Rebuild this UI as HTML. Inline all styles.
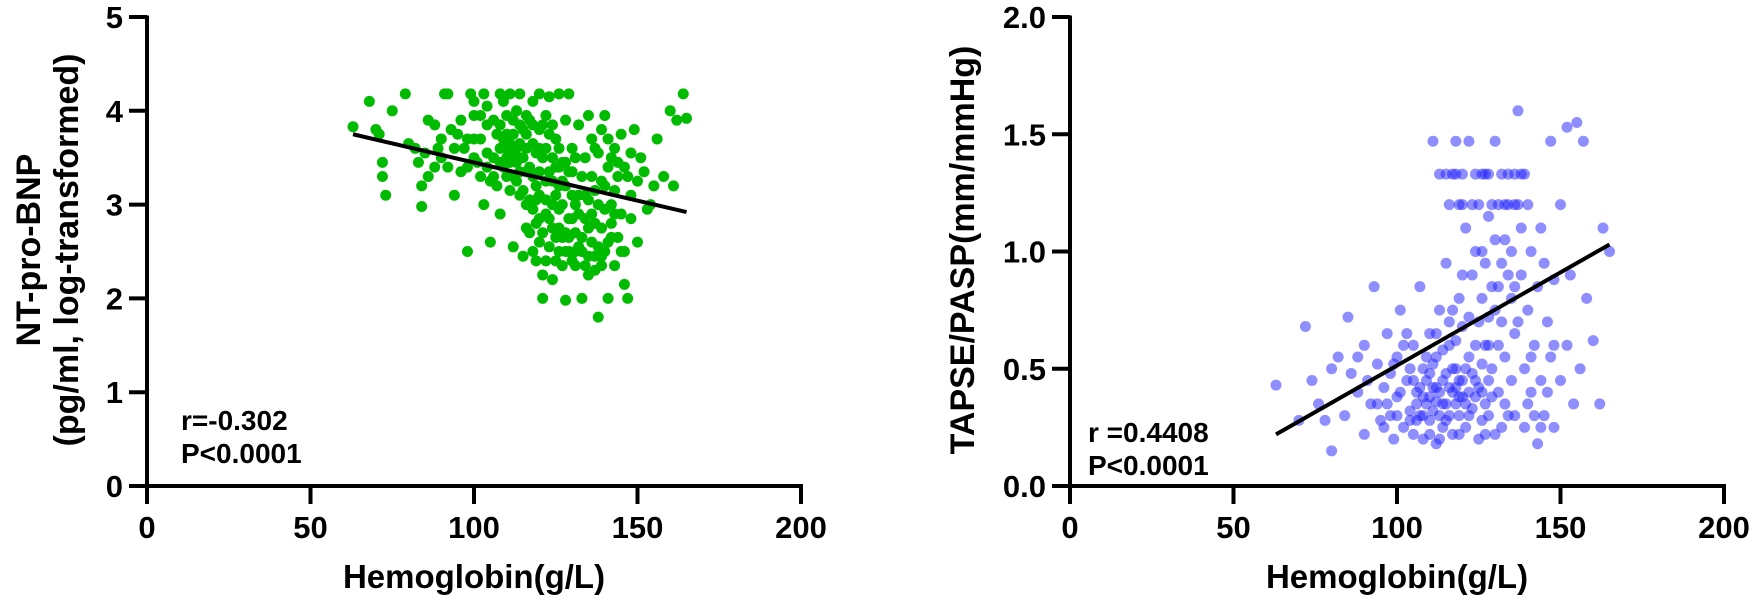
<!DOCTYPE html>
<html><head><meta charset="utf-8"><style>
html,body{margin:0;padding:0;background:#fff}
svg{display:block;font-family:"Liberation Sans",Arial,sans-serif;font-weight:bold}
</style></head><body>
<svg id="fig" width="1755" height="614" viewBox="0 0 1755 614"></svg>
<script>
const xTicks=[0,50,100,150,200];
const leftYTicks=[0,1,2,3,4,5];
const rightYTicks=[0,0.5,1.0,1.5,2.0];
const rightYLabels=["0.0","0.5","1.0","1.5","2.0"];
const leftFit=[[63,3.75],[165,2.92]];
const rightFit=[[63,0.22],[165,1.03]];
const leftPoints=[[63,3.83],[68,4.1],[70,3.8],[71,3.75],[72,3.45],[72,3.3],[73,3.1],[75,4.0],[79,4.18],[80,3.65],[82,3.6],[83,3.45],[84,3.2],[84,2.98],[85,3.55],[86,3.9],[88,3.85],[89,3.6],[90,3.5],[91,4.18],[92,4.18],[93,3.8],[94,3.1],[95,3.75],[96,3.35],[97,3.6],[98,2.5],[99,4.18],[100,4.1],[100,3.95],[101,3.45],[102,3.7],[103,4.18],[103,3.0],[104,3.55],[105,2.6],[105,3.25],[106,3.9],[107,3.75],[108,3.85],[108,2.9],[109,4.1],[110,3.6],[110,3.3],[111,4.18],[111,3.45],[112,3.75],[112,2.55],[113,4.0],[113,3.6],[114,3.1],[114,3.85],[115,3.5],[115,2.45],[116,3.95],[116,3.0],[117,2.7],[117,3.4],[118,4.1],[118,3.65],[119,2.8],[119,3.2],[120,3.8],[120,2.6],[121,3.5],[121,2.0],[122,3.05],[122,2.9],[123,4.15],[123,3.35],[124,2.2],[124,2.75],[125,3.7],[125,3.1],[126,2.5],[126,2.95],[127,3.45],[127,2.65],[128,1.98],[128,3.2],[129,4.18],[129,2.85],[130,3.6],[130,2.4],[131,3.0],[131,2.7],[132,3.85],[132,2.55],[133,3.3],[133,2.0],[134,3.5],[134,2.85],[135,3.05],[135,2.45],[136,3.7],[136,2.6],[137,2.3],[137,3.15],[138,1.8],[138,3.55],[139,2.75],[139,3.25],[140,3.95],[140,2.5],[141,3.4],[141,2.0],[142,3.0],[142,2.65],[143,3.6],[143,2.35],[144,3.3],[145,2.9],[145,3.75],[146,2.5],[146,2.15],[147,2.0],[147,3.3],[148,2.85],[148,3.55],[150,3.25],[150,2.6],[152,3.35],[153,2.95],[155,3.2],[156,3.7],[158,3.3],[160,4.0],[161,3.2],[162,3.9],[164,4.18],[165,3.92],[106,3.5],[107,3.2],[108,3.45],[109,3.7],[110,3.95],[111,3.15],[112,3.55],[113,3.25],[114,3.65],[115,3.8],[116,3.35],[117,3.9],[118,3.3],[119,3.55],[120,3.35],[121,3.85],[122,3.6],[123,3.75],[124,3.5],[125,3.4],[126,3.2],[127,3.0],[128,2.7],[129,3.35],[130,3.1],[116,2.75],[118,2.5],[120,2.85],[122,2.4],[124,3.0],[126,3.6],[128,3.9],[130,2.85],[132,3.1],[134,2.35],[136,2.9],[138,2.55],[140,2.95],[142,3.5],[144,2.65],[96,3.9],[98,3.7],[100,3.5],[102,3.3],[104,3.85],[92,3.4],[94,3.6],[88,3.4],[86,3.3],[90,3.7],[104,4.05],[108,4.18],[114,4.18],[120,4.18],[126,4.18],[131,3.5],[135,3.95],[137,3.6],[139,3.8],[141,3.7],[143,3.15],[146,3.4],[148,3.1],[149,3.8],[151,3.5],[154,3.0],
[109,3.4],[110,3.75],[111,3.65],[112,3.9],[113,3.45],[114,3.35],[115,3.15],[116,3.6],[117,3.05],[118,2.95],[119,3.05],[120,3.1],[121,2.7],[122,3.25],[123,2.85],[124,3.25],[125,2.65],[126,2.75],[127,3.25],[128,2.5],[129,2.65],[130,3.35],[131,2.5],[132,2.9],[133,2.65],[134,3.1],[135,2.75],[136,3.3],[137,2.8],[138,3.0],[139,2.45],[140,3.2],[141,2.6],[142,2.8],[143,2.9],[144,3.45],[145,2.5],[120,3.6],[118,3.85],[116,3.75],[114,3.5],[112,3.3],[110,3.5],[108,3.6],[106,3.3],[104,3.4],[102,3.95],[100,3.7],[98,3.4],[122,3.95],[124,3.85],[126,3.4],[128,3.45],[119,2.4],[121,2.25],[123,2.55],[125,2.4],[127,2.35],[129,2.5],[131,2.35],[133,2.5],[135,2.25],[137,2.45],[139,2.35]];
const rightPoints=[[63,0.43],[70,0.28],[72,0.68],[74,0.45],[76,0.35],[78,0.28],[80,0.15],[80,0.5],[82,0.55],[84,0.3],[85,0.72],[86,0.48],[88,0.4],[90,0.6],[90,0.22],[92,0.35],[93,0.85],[94,0.52],[95,0.28],[96,0.42],[97,0.65],[98,0.3],[99,0.2],[100,0.55],[100,0.38],[101,0.75],[102,0.25],[103,0.45],[104,0.32],[105,0.6],[105,0.22],[106,0.4],[107,0.85],[107,0.3],[108,0.5],[108,0.2],[109,0.35],[110,0.65],[110,0.28],[111,1.47],[111,0.42],[112,0.55],[112,0.18],[113,0.3],[113,0.75],[114,0.45],[114,0.25],[115,0.95],[115,0.35],[116,1.2],[116,0.6],[117,0.4],[117,0.22],[118,1.33],[118,0.5],[119,0.8],[119,0.3],[120,1.33],[120,0.68],[120,0.38],[121,1.1],[121,0.25],[122,1.47],[122,0.55],[123,0.9],[123,0.33],[124,1.33],[124,0.45],[125,1.2],[125,0.7],[125,0.2],[126,1.0],[126,0.4],[127,1.33],[127,0.6],[128,1.15],[128,0.3],[129,0.85],[129,0.5],[130,1.47],[130,0.75],[130,0.22],[131,1.2],[131,0.4],[132,1.33],[132,0.95],[133,1.05],[133,0.55],[134,1.2],[134,0.3],[135,0.8],[135,0.45],[136,1.33],[136,0.65],[137,1.6],[137,1.2],[138,1.33],[138,0.9],[139,0.5],[139,0.25],[140,1.2],[140,0.75],[141,1.0],[141,0.4],[142,0.6],[142,0.3],[143,0.85],[143,0.18],[144,1.1],[144,0.45],[145,0.95],[145,0.3],[146,0.7],[146,0.4],[147,1.47],[147,0.55],[148,0.88],[148,0.25],[150,1.2],[150,0.45],[152,1.53],[152,0.6],[153,0.9],[154,0.35],[155,1.55],[156,0.5],[157,1.47],[158,0.8],[160,0.62],[162,0.35],[163,1.1],[165,1.0],[105,0.45],[108,0.38],[110,0.48],[112,0.36],[114,0.58],[115,0.28],[116,0.42],[118,0.35],[119,0.45],[121,0.5],[122,0.4],[124,0.6],[126,0.28],[128,0.45],[129,0.38],[131,0.6],[133,0.35],[120,0.9],[117,0.75],[113,1.33],[115,1.33],[117,1.33],[119,1.2],[123,1.2],[127,0.95],[129,1.2],[131,0.85],[135,1.0],[137,0.7],[139,1.33],[141,0.55],[96,0.25],[98,0.48],[102,0.6],[104,0.5],[106,0.28],[109,0.55],[111,0.32],[100,0.3],[94,0.35],[88,0.55],[91,0.45],
[106,0.35],[107,0.42],[108,0.3],[109,0.45],[110,0.38],[111,0.52],[112,0.42],[113,0.4],[114,0.35],[115,0.48],[116,0.3],[117,0.5],[118,0.42],[119,0.38],[120,0.45],[121,0.35],[122,0.3],[123,0.48],[124,0.38],[125,0.42],[126,0.52],[127,0.35],[128,0.6],[112,0.65],[116,0.7],[118,0.62],[122,0.72],[126,0.8],[128,0.72],[132,0.7],[134,0.9],[136,0.85],[138,1.1],[124,1.0],[130,1.05],[120,1.2],[118,1.47],[126,1.33],[128,1.33],[134,1.33],[136,1.2],[133,1.2],[104,0.28],[103,0.65],[101,0.4],[99,0.52],[97,0.35],[110,0.22],[113,0.2],[119,0.22],[127,0.22],[132,0.25],[136,0.3],[140,0.35],[144,0.25],[148,0.6]];

const NS="http://www.w3.org/2000/svg";
const svg=document.getElementById('fig');
function mk(tag,attrs,parent){const e=document.createElementNS(NS,tag);for(const k in attrs)e.setAttribute(k,attrs[k]);(parent||svg).appendChild(e);return e;}

function panel(cfg){
  const g=mk('g',{});
  
  
  const X=v=>cfg.x0+v*(cfg.x1-cfg.x0)/200;
  const Y=v=>cfg.y0-v*(cfg.y0-cfg.yTop)/cfg.yMax;
  cfg.points.forEach(p=>{
    const c=mk('circle',{cx:X(p[0]),cy:Y(p[1]),r:5.5,fill:cfg.color},g);
    
    
  });
  const fl=mk('line',{x1:X(cfg.fit[0][0]),y1:Y(cfg.fit[0][1]),x2:X(cfg.fit[1][0]),y2:Y(cfg.fit[1][1]),stroke:'#000','stroke-width':4},g);
  
  
  const ya=mk('line',{x1:cfg.x0,y1:Y(cfg.yMax)-1.5,x2:cfg.x0,y2:cfg.y0+18,stroke:'#000','stroke-width':4},g);
  
  
  const xa=mk('line',{x1:cfg.x0-18,y1:cfg.y0,x2:X(200)+2,y2:cfg.y0,stroke:'#000','stroke-width':4},g);
  
  
  cfg.yTicks.forEach((v,i)=>{
    if(v>0) mk('line',{x1:cfg.x0-18,y1:Y(v),x2:cfg.x0,y2:Y(v),stroke:'#000','stroke-width':4},g);
    const t=mk('text',{x:cfg.x0-24,y:Y(v)+11,'text-anchor':'end','font-size':31},g);
    t.textContent=cfg.yLabels[i];
    
    
  });
  xTicks.forEach(v=>{
    if(v>0) mk('line',{x1:X(v),y1:cfg.y0,x2:X(v),y2:cfg.y0+18,stroke:'#000','stroke-width':4},g);
    const t=mk('text',{x:X(v),y:cfg.y0+52,'text-anchor':'middle','font-size':31},g);
    t.textContent=String(v);
    
    
  });
  const xt=mk('text',{x:(cfg.x0+X(200))/2,y:cfg.y0+102,'text-anchor':'middle','font-size':33},g);
  xt.textContent='Hemoglobin(g/L)';
  
  
  cfg.yTitle.forEach((s,i)=>{
    const tx=cfg.yTitleX[i];
    const t=mk('text',{x:tx,y:250,'text-anchor':'middle','font-size':34,transform:`rotate(-90 ${tx} 250)`},g);
    t.textContent=s;
    
    
  });
  cfg.annot.forEach((s,i)=>{
    const t=mk('text',{x:cfg.annotX,y:cfg.annotY+i*33,'font-size':28,'font-weight':'bold'},g);
    t.textContent=s;
    
    
  });
}

panel({name:'ntprobnp-panel',x0:147,x1:801,y0:486,yTop:17,yMax:5,points:leftPoints,fit:leftFit,color:'#00bb00',
  yTicks:leftYTicks,yLabels:leftYTicks.map(String),yTitle:['NT-pro-BNP','(pg/ml, log-transformed)'],yTitleX:[40,78],
  annot:['r=-0.302','P<0.0001'],annotX:181,annotY:430});
panel({name:'tapse-pasp-panel',x0:1070,x1:1724,y0:486,yTop:17,yMax:2,points:rightPoints,fit:rightFit,color:'rgba(30,30,255,0.5)',
  yTicks:rightYTicks,yLabels:rightYLabels,yTitle:['TAPSE/PASP(mm/mmHg)'],yTitleX:[974],
  annot:['r =0.4408','P<0.0001'],annotX:1088,annotY:442});
</script>
</body></html>
